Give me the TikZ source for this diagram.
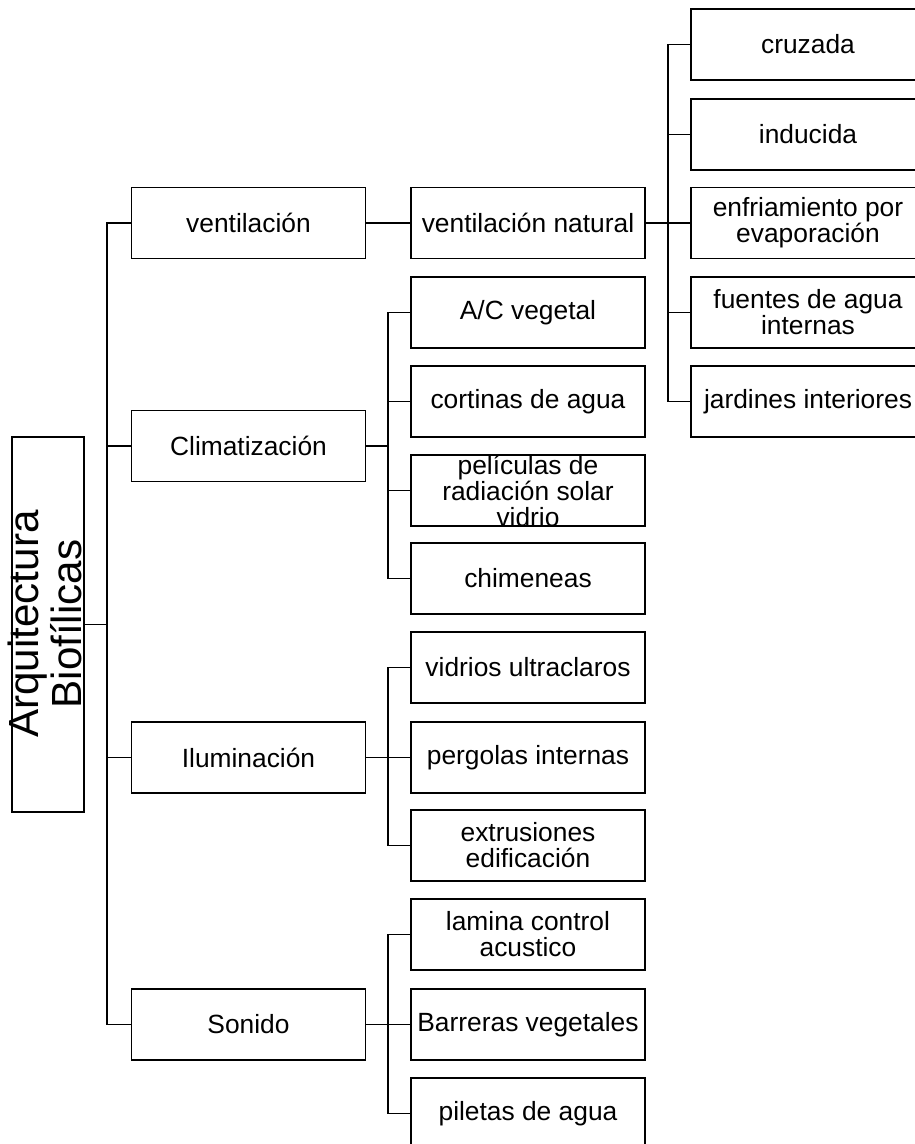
\documentclass[tikz,border=0pt]{standalone}
\usepackage{fontspec}
\setmainfont{Liberation Sans}
\usetikzlibrary{positioning}

\tikzset{
  box/.style={draw, line width=1pt, minimum width=4.68cm, minimum height=1.42cm, inner sep=0pt, align=center, font=\fontsize{15}{14.8}\selectfont},
  boxtext/.style={inner sep=0pt, align=center, font=\fontsize{15}{14.8}\selectfont},
  rootbox/.style={draw, line width=1pt, minimum width=1.44cm, minimum height=7.5cm, inner sep=0pt},
  roottext/.style={rotate=90, inner sep=0pt, align=center, font=\fontsize{24}{24.5}\selectfont},
  link/.style={line width=1pt}
}

\begin{document}
\begin{tikzpicture}[x=0.02cm, y=-0.02cm]
\useasboundingbox (0,0) rectangle (915,1144);
\clip (0,0) rectangle (915,1144);

% root
\node[rootbox] (root) at (48,624.5) {};
\node[roottext] (roottitle) at (45,624) {Arquitectura\\Biofílicas};

% first level
\node[box] (vent) at (248.5,223) {ventilación};
\node[box] (clim) at (248.5,446) {Climatización};
\node[box] (ilum) at (248.5,757.5) {Iluminación};
\node[box] (son) at (248.5,1024.5) {Sonido};

% second level
\node[box] (ventnat) at (528,223) {ventilación natural};
\node[box] (acveg) at (528,312.5) {A/C vegetal};
\node[box] (cortinas) at (528,401.5) {cortinas de agua};
\node[box] (peliculas) at (528,490.5) {};
\node[boxtext] (peliculastext) at (peliculas.center) {películas de\\radiación solar\\vidrio};
\node[box] (chimeneas) at (528,578.5) {chimeneas};
\node[box] (vidrios) at (528,667.5) {vidrios ultraclaros};
\node[box] (pergolas) at (528,757.5) {pergolas internas};
\node[box] (extrusiones) at (528,845.5) {extrusiones\\edificación};
\node[box] (lamina) at (528,934.5) {lamina control\\acustico};
\node[box] (barreras) at (528,1024.5) {Barreras vegetales};
\node[box] (piletas) at (528,1113.5) {piletas de agua};

% third level
\node[box] (cruzada) at (808,44.5) {cruzada};
\node[box] (inducida) at (808,134.5) {inducida};
\node[box] (enfriamiento) at (808,223) {enfriamiento por\\evaporación};
\node[box] (fuentes) at (808,312.5) {fuentes de agua\\internas};
\node[box] (jardines) at (808,401.5) {jardines interiores};

% connectors
\coordinate (rootbus) at (107,624.5);
\draw[link] (root.east) -- (rootbus);
\foreach \n in {vent,clim,ilum,son}
  \draw[link] (rootbus) |- (\n.west);

\draw[link] (vent.east) -- (ventnat.west);

\coordinate (climbus) at (388,446);
\draw[link] (clim.east) -- (climbus);
\foreach \n in {acveg,cortinas,peliculas,chimeneas}
  \draw[link] (climbus) |- (\n.west);

\coordinate (ilumbus) at (388,757.5);
\draw[link] (ilum.east) -- (ilumbus);
\foreach \n in {vidrios,pergolas,extrusiones}
  \draw[link] (ilumbus) |- (\n.west);

\coordinate (sonbus) at (388,1024.5);
\draw[link] (son.east) -- (sonbus);
\foreach \n in {lamina,barreras,piletas}
  \draw[link] (sonbus) |- (\n.west);

\coordinate (natbus) at (668,223);
\draw[link] (ventnat.east) -- (natbus);
\foreach \n in {cruzada,inducida,enfriamiento,fuentes,jardines}
  \draw[link] (natbus) |- (\n.west);
\end{tikzpicture}
\end{document}
